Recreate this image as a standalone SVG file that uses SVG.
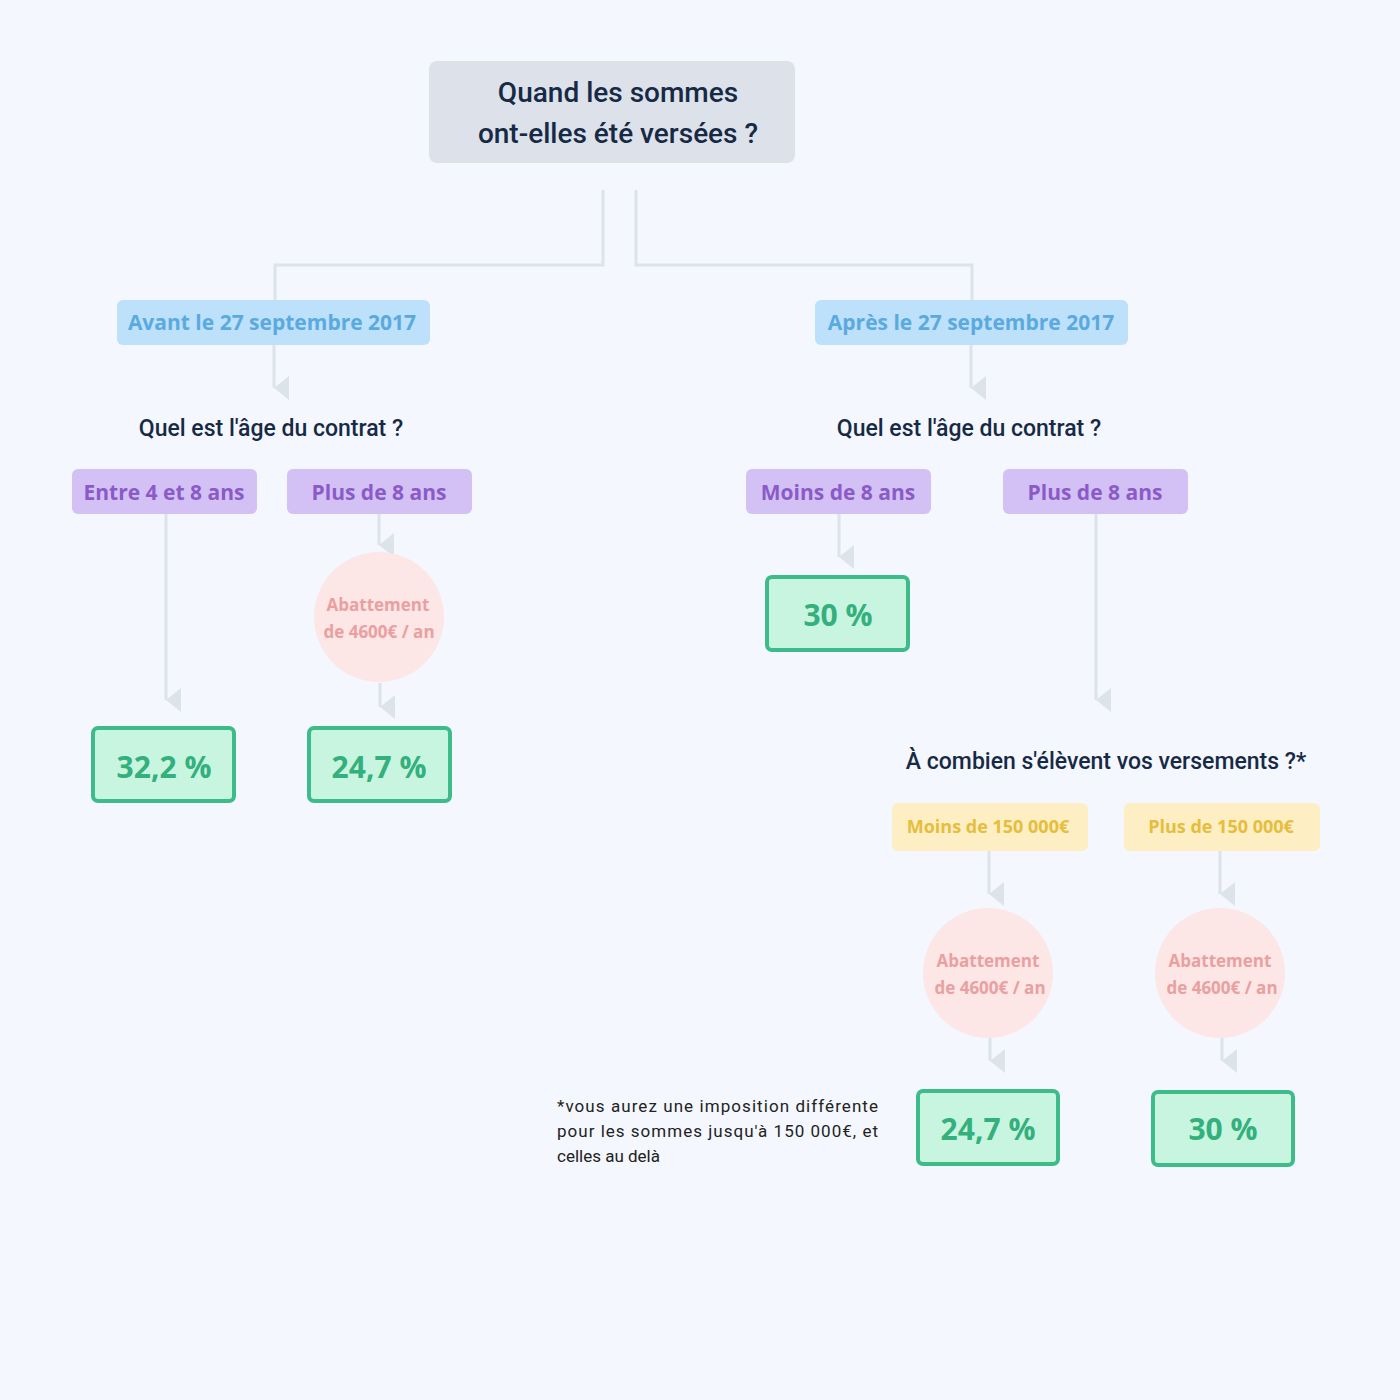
<svg xmlns="http://www.w3.org/2000/svg" width="1400" height="1400" viewBox="0 0 1400 1400">
<style>
.q{font-family:Roboto,"Liberation Sans",sans-serif;font-weight:500;fill:#172a45;text-anchor:middle}
.b{font-family:"Open Sans","Noto Sans",sans-serif;font-weight:700;text-anchor:middle}
.blue rect{fill:#bde0fb}.blue text{fill:#5aaae0;font-size:21px}
.pur rect{fill:#d3c0f4}.pur text{fill:#8a5bc8;font-size:21px}
.yel rect{fill:#fdefc3}.yel text{fill:#e6bd3c;font-size:18px}
.cir circle{fill:#fde6e6}.cir text{fill:#e9a0a0;font-size:17px}
.res rect{fill:#c8f5df;stroke:#3dbb88;stroke-width:4}.res text{fill:#33b07e;font-size:30px}
.c{fill:none;stroke:#dce3eb;stroke-width:3}
.ft{font-family:Roboto,"Liberation Sans",sans-serif;font-size:17px;fill:#222}
</style>
<defs><marker id="a" markerWidth="8" markerHeight="6" refX="4" refY="5" orient="auto" markerUnits="strokeWidth" viewBox="0 0 8 6"><path d="M0,0H8L4,5z" fill="#dce3eb"/></marker></defs>
<rect width="1400" height="1400" fill="#f4f7fd"/>
<g id="connectors">
<path class="c" d="M603,190V265H275V300"/>
<path class="c" d="M636,190V265H972V300"/>
<path class="c" d="M274,345V388" marker-end="url(#a)"/>
<path class="c" d="M971,345V388" marker-end="url(#a)"/>
<path class="c" d="M166,514V700" marker-end="url(#a)"/>
<path class="c" d="M379,514V545" marker-end="url(#a)"/>
<path class="c" d="M380,683V707" marker-end="url(#a)"/>
<path class="c" d="M839,514V557" marker-end="url(#a)"/>
<path class="c" d="M1096,514V700" marker-end="url(#a)"/>
<path class="c" d="M989,851V894" marker-end="url(#a)"/>
<path class="c" d="M1220,851V894" marker-end="url(#a)"/>
<path class="c" d="M990,1037V1061" marker-end="url(#a)"/>
<path class="c" d="M1222,1037V1061" marker-end="url(#a)"/>
</g>
<g id="title"><rect x="429" y="61" width="366" height="102" rx="8" fill="#dce1ea"/>
<text class="q" x="618" y="102" font-size="28">Quand les sommes</text>
<text class="q" x="618" y="143" font-size="28">ont-elles été versées ?</text></g>
<g id="avant" class="blue b"><rect x="117" y="300" width="313" height="45" rx="6"/><text x="272" y="330">Avant le 27 septembre 2017</text></g>
<g id="apres" class="blue b"><rect x="815" y="300" width="313" height="45" rx="6"/><text x="971" y="330">Après le 27 septembre 2017</text></g>
<g id="q1"><text class="q" x="271" y="436" font-size="23">Quel est l'âge du contrat ?</text></g>
<g id="q2"><text class="q" x="969" y="436" font-size="23">Quel est l'âge du contrat ?</text></g>
<g id="p1" class="pur b"><rect x="72" y="469" width="185" height="45" rx="6"/><text x="164" y="500">Entre 4 et 8 ans</text></g>
<g id="p2" class="pur b"><rect x="287" y="469" width="185" height="45" rx="6"/><text x="379" y="500">Plus de 8 ans</text></g>
<g id="p3" class="pur b"><rect x="746" y="469" width="185" height="45" rx="6"/><text x="838" y="500">Moins de 8 ans</text></g>
<g id="p4" class="pur b"><rect x="1003" y="469" width="185" height="45" rx="6"/><text x="1095" y="500">Plus de 8 ans</text></g>
<g id="c1" class="cir b"><circle cx="379" cy="617" r="65"/><text x="378" y="611">Abattement</text><text x="379" y="638">de 4600€ / an</text></g>
<g id="r1" class="res b"><rect x="93" y="728" width="141" height="73" rx="5"/><text x="164" y="778">32,2  %</text></g>
<g id="r2" class="res b"><rect x="309" y="728" width="141" height="73" rx="5"/><text x="379" y="778">24,7 %</text></g>
<g id="r3" class="res b"><rect x="767" y="577" width="141" height="73" rx="5"/><text x="838" y="626">30 %</text></g>
<g id="q3"><text class="q" x="1106" y="769" font-size="23">À combien s'élèvent vos versements ?*</text></g>
<g id="y1" class="yel b"><rect x="892" y="803" width="196" height="48" rx="6"/><text x="988" y="833">Moins de 150 000€</text></g>
<g id="y2" class="yel b"><rect x="1124" y="803" width="196" height="48" rx="6"/><text x="1221" y="833">Plus de 150 000€</text></g>
<g id="c2" class="cir b"><circle cx="988" cy="973" r="65"/><text x="988" y="967">Abattement</text><text x="990" y="994">de 4600€ / an</text></g>
<g id="c3" class="cir b"><circle cx="1220" cy="973" r="65"/><text x="1220" y="967">Abattement</text><text x="1222" y="994">de 4600€ / an</text></g>
<g id="r4" class="res b"><rect x="918" y="1091" width="140" height="73" rx="5"/><text x="988" y="1140">24,7 %</text></g>
<g id="r5" class="res b"><rect x="1153" y="1092" width="140" height="73" rx="5"/><text x="1223" y="1140">30 %</text></g>
<g id="note" class="ft">
<text x="557" y="1112" textLength="321" lengthAdjust="spacing">*vous aurez une imposition différente</text>
<text x="557" y="1137" textLength="321" lengthAdjust="spacing">pour les sommes jusqu'à 150 000€, et</text>
<text x="557" y="1162">celles au delà</text></g>
</svg>
